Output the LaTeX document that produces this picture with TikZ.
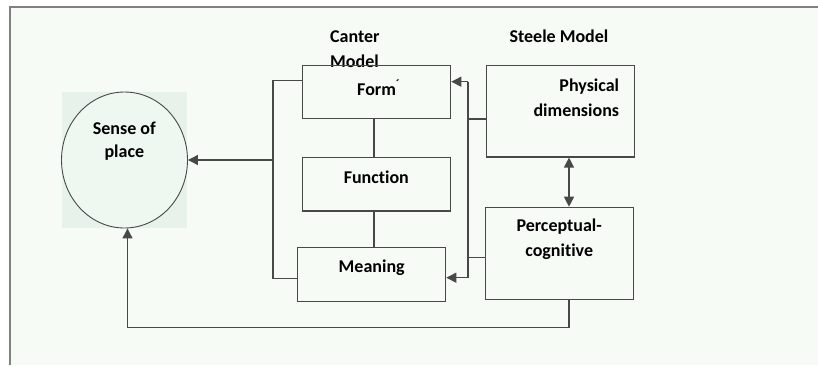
\documentclass[tikz,border=0pt]{standalone}
\usepackage{fontspec}
\setmainfont{Carlito}[Ligatures=NoCommon]
\usetikzlibrary{shapes.geometric,arrows.meta}

\definecolor{pagegreen}{HTML}{F6FBF6}
\definecolor{placegreen}{HTML}{E7F2EA}
\definecolor{circlefill}{HTML}{EFF7F1}
\definecolor{linegray}{HTML}{484848}

\begin{document}
\begin{tikzpicture}[x=1pt,y=-1pt]
        \tikzstyle{every node}=[inner sep=0pt, text=black, font=\bfseries\fontsize{18}{25}\selectfont]
        \tikzstyle{box}=[draw=linegray, line width=1.2pt, rectangle, minimum width=148pt]
        \tikzstyle{link}=[draw=linegray, line width=1.2pt]
        \tikzstyle{arr}=[link, -{Triangle[length=10pt,width=10pt]}]

        \useasboundingbox (0,0) rectangle (818,365);
        \fill[white] (0,0) rectangle (818,365);
        \fill[pagegreen] (10,7) rectangle (818,365);
        \draw[draw=gray, line width=1.6pt] (818,7) -- (10,7) -- (10,365);

        % sense of place
        \fill[placegreen] (61.5,92) rectangle (187,228);
        \node[ellipse, draw=linegray, line width=0.9pt, fill=circlefill,
              minimum width=126pt, minimum height=136pt](sense)at(124.5,160){};
        \node[align=center, font=\bfseries\fontsize{18}{23}\selectfont](sensetxt)at(124.3,141.5){Sense of\\place};

        % Canter model
        \node[align=left, anchor=west](canter)at(330,48.8){Canter\\Model};
        \node[box, minimum height=53pt](form)at(376.7,92.2){};
        \node[box, minimum height=53.7pt](function)at(376.7,184.2){};
        \node[box, minimum height=54pt](meaning)at(371.7,274.7){};
        \node[anchor=west](formtxt)at(357,87.7){Form\textsuperscript{\textasciiacute}};
        \node[](functiontxt)at(376.3,177.3){Function};
        \node[](meaningtxt)at(371.7,268){Meaning};

        % Steele model
        \node[](steele)at(559,36){Steele Model};
        \node[box, minimum height=91.3pt](physical)at(560.8,111.3){};
        \node[box, minimum height=92.4pt](perceptual)at(559.3,253.5){};
        \node[align=right, anchor=east](physicaltxt)at(619.3,98.2){Physical\\dimensions};
        \node[align=center](perceptualtxt)at(559.2,238.8){Perceptual-\\cognitive};

        % connectors
        \coordinate(midx)at(374,0);
        \coordinate(steelx)at(569,0);
        \coordinate(lbtop)at(273,80.7);
        \coordinate(lbbot)at(273,278.3);
        \coordinate(rbtop)at(468,81.7);
        \coordinate(rbbot)at(468,277.7);
        \coordinate(rbphys)at(468,119);
        \coordinate(rbperc)at(468,257.7);
        \coordinate(botline)at(127.5,327.3);

        \draw[link] (form.south -| midx) -- (function.north -| midx);
        \draw[link] (function.south -| midx) -- (meaning.north -| midx);
        \draw[link] (form.west |- lbtop) -- (lbtop) -- (lbbot) -- (meaning.west |- lbbot);
        \draw[arr] (lbtop |- sense.east) -- (sense.east);

        \draw[link] (rbtop) -- (rbbot);
        \draw[link] (physical.west |- rbphys) -- (rbphys);
        \draw[link] (perceptual.west |- rbperc) -- (rbperc);
        \draw[arr] (rbtop) -- (form.east |- rbtop);
        \draw[arr] (rbbot) -- (meaning.east |- rbbot);

        \draw[link, {Triangle[length=10pt,width=10pt]}-{Triangle[length=10pt,width=10pt]}]
            (physical.south -| steelx) -- (perceptual.north -| steelx);
        \draw[arr] (perceptual.south -| steelx) |- (botline) -- (botline |- sense.south);
    \end{tikzpicture}
\end{document}
